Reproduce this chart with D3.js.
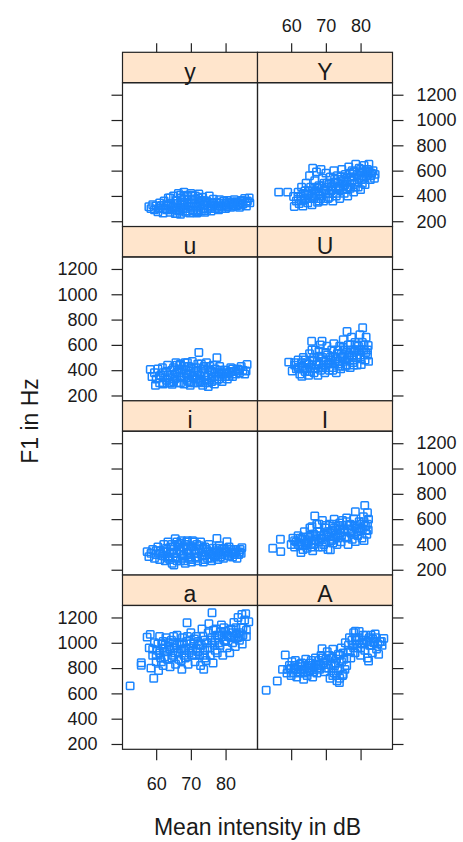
<!DOCTYPE html>
<html>
<head>
<meta charset="utf-8">
<title>F1 by intensity</title>
<script src="https://cdn.jsdelivr.net/npm/d3@7"></script>
<style>
body { margin: 0; background: #fff; }
text { font-family: "Liberation Sans", Arial, sans-serif; fill: #1a1a1a; }
</style>
</head>
<body>
<div class="container"></div>
<script>
// panel order: left to right, top to bottom
var panelLabels = ["y", "Y", "u", "U", "i", "I", "a", "A"];
var xTicks = [60, 70, 80];
var yTicks = [200, 400, 600, 800, 1000, 1200];

// [mean intensity dB, F1 Hz] (outer points, then the dense core)
var pts_y = [[57.9,315],[58.5,300],[59,330],[59.5,290],[60,320],[60.5,275],[61,345],[61.2,305],[62,265],[62.3,360],[62.8,330],[63,290],[63.5,385],[64,270],[64.2,340],[64.8,310],[65,400],[65.5,260],[65.8,365],[66,290],[66.4,420],[66.8,330],[67,255],[67.3,385],[67.7,300],[68,430],[68.3,350],[68.6,270],[69,405],[69.3,320],[69.7,265],[70,420],[70.2,370],[70.6,290],[71,340],[71.3,400],[71.7,265],[72,310],[72.3,415],[72.7,355],[73,280],[73.4,390],[73.8,325],[74,270],[74.5,360],[75,300],[75.3,400],[75.8,280],[76,340],[76.5,375],[77,300],[77.5,350],[78,290],[78.3,370],[79,320],[79.5,345],[80,300],[80.5,365],[81,330],[81.5,310],[82,350],[82.5,370],[83,320],[83.5,345],[84,310],[84.5,365],[85,335],[85.5,380],[86,320],[86.3,360],[86.8,385],[87,345],
    [62.5,300],[63.5,320],[64.5,290],[65,340],[65.5,310],[66,360],[66.5,280],[67,310],[67.5,350],[68,330],[68.5,300],[69,370],[69.5,345],[70,310],[70.5,280],[71,375],[71.5,320],[72,290],[72.5,340],[73,365],[73.5,300],[74,330],[74.5,285],[75,350],[75.5,320],[76,300],[76.5,345],[77,325],[77.5,310],[78,340],[78.5,320],[79,300],[79.5,360],[80,330],[80.5,315],[81,350],[81.5,340],[82,320],[82.5,335],[83,355],[83.5,325],[84,345],[84.5,330],[85,360],[86,350],[64,385],[67,405],[69,395],[70.5,405],[72,385],[60.8,300],[61.5,325],[66,260],[69,280],[72,275],[64,300],[66.8,295],[68,395],[74,360],[76,320]];
var pts_Y = [[56.4,430],[59,430],[60.7,396],[60.9,317],[61.5,360],[62,430],[62.3,340],[62.8,400],[63,470],[63.4,320],[63.8,370],[64,440],[64.3,500],[64.8,345],[65,410],[65.3,560],[65.6,470],[66,330],[66.2,620],[66.5,380],[66.8,520],[67,440],[67.3,590],[67.6,350],[68,480],[68.3,400],[68.6,610],[69,540],[69.3,360],[69.6,450],[70,580],[70.3,500],[70.6,380],[71,420],[71.3,550],[71.6,470],[72,360],[72.3,600],[72.6,510],[73,420],[73.3,560],[73.6,460],[74,380],[74.3,530],[74.6,610],[75,480],[75.3,420],[75.6,570],[76,510],[76.3,400],[76.6,630],[77,460],[77.3,550],[77.6,600],[78,430],[78.3,500],[78.6,650],[79,570],[79.3,470],[79.6,620],[80,450],[80.3,530],[80.6,590],[81,640],[81.3,490],[81.6,560],[82,610],[82.4,650],[82.8,530],[83.2,580],[83.6,600],[84,540],[84.2,570],
    [62,390],[63,360],[63.5,420],[64,380],[64.5,410],[65,440],[65.5,380],[66,420],[66.5,450],[67,400],[67.5,470],[68,430],[68.5,380],[69,460],[69.5,500],[70,420],[70.5,470],[71,500],[71.5,440],[72,480],[72.5,530],[73,460],[73.5,500],[74,450],[74.5,550],[75,520],[75.5,490],[76,540],[76.5,470],[77,580],[77.5,520],[78,550],[78.5,470],[79,510],[79.5,540],[80,580],[80.5,500],[81,540],[81.5,600],[82,570],[82.5,590],[83,560],[70,440],[72,450],[74,470],[76,450],[78,590],[80,610],[66,400],[68,360],[71,390],[73,400],[75,450]];
var pts_u = [[58.3,406],[58.8,350],[59.5,380],[59.8,280],[60,330],[60.5,410],[61,300],[61.3,360],[61.8,420],[62,290],[62.5,340],[63,390],[63.3,440],[63.7,300],[64,360],[64.6,288],[65,420],[65.3,330],[65.7,460],[66,380],[66.4,300],[66.8,440],[67,350],[67.5,410],[68,290],[68.3,460],[68.7,370],[69,320],[69.4,430],[69.8,280],[70,390],[70.4,470],[70.8,340],[71,300],[71.4,420],[71.8,360],[72,450],[72.3,540],[72.6,310],[73,390],[73.4,280],[73.8,430],[74,350],[74.5,460],[75,270],[75.1,300],[75.5,400],[76,340],[76.4,440],[76.8,290],[77,380],[77.5,499],[78,330],[78.3,430],[78.8,370],[79,310],[79.5,400],[80,350],[80.5,330],[81,380],[81.5,420],[82,350],[82.5,390],[83,370],[83.5,410],[84,380],[84.5,430],[85,400],[85.9,393],[86.2,446],[85.5,370],
    [61,340],[62,380],[63,320],[63.5,360],[64.5,400],[65,310],[65.5,370],[66,340],[66.5,410],[67,300],[67.5,380],[68,340],[68.5,400],[69,360],[69.5,310],[70,420],[70.5,350],[71,380],[71.5,330],[72,400],[72.5,360],[73,320],[73.5,410],[74,380],[74.5,320],[75,360],[75.5,430],[76,390],[76.5,350],[77,410],[77.5,320],[78,380],[78.5,400],[79,350],[79.5,380],[80,400],[80.5,370],[81,350],[81.5,390],[82,410],[83,395],[84,400],[62,300],[64,300],[66,440],[68,430],[70,300],[72,300],[74,300],[76,310],[67,450],[69,460],[73,450]];
var pts_U = [[59.3,464],[60.3,393],[61,440],[61.5,410],[62,480],[62.5,370],[63,430],[63.1,351],[63.5,500],[64,390],[64.5,460],[65,360],[65.3,530],[65.6,420],[65.9,629],[66.2,480],[66.6,380],[67,560],[67.3,440],[67.7,360],[68,510],[68.4,600],[68.9,629],[69,420],[69.3,470],[69.7,380],[70,540],[70.3,590],[70.6,450],[71,400],[71.3,500],[71.7,560],[72,420],[72.3,610],[72.7,470],[73,380],[73.3,530],[73.7,450],[74,590],[74.3,410],[74.7,500],[75,640],[75.3,560],[75.6,430],[76,480],[76.1,706],[76.4,600],[76.8,520],[77,420],[77.4,660],[77.8,460],[78,560],[78.4,620],[78.8,500],[79,440],[79.4,590],[79.8,680],[80,520],[80.2,445],[80.5,620],[80.6,735],[81,560],[81.3,480],[81.6,660],[82,520],[82.2,595],[82.3,470],
    [61,460],[62,420],[63,460],[63.5,420],[64,480],[64.5,410],[65,450],[65.5,390],[66,440],[66.5,500],[67,410],[67.5,470],[68,450],[68.5,400],[69,500],[69.5,440],[70,480],[70.5,520],[71,450],[71.5,480],[72,510],[72.5,450],[73,490],[73.5,560],[74,470],[74.5,530],[75,510],[75.5,470],[76,540],[76.5,500],[77,560],[77.5,510],[78,480],[78.5,550],[79,520],[79.5,560],[80,490],[80.5,560],[81,600],[81.5,540],[82,560],[70,420],[72,400],[74,430],[76,440],[78,440],[79,600],[77,600],[75,580],[68,550],[66,560]];
var pts_i = [[57.4,343],[57.9,304],[58.5,330],[59,360],[59.5,290],[60,320],[60.5,380],[61,280],[61.3,350],[61.8,310],[62.2,400],[62.6,270],[63,340],[63.4,420],[63.8,300],[64.2,380],[64.6,250],[65.1,238],[65,330],[65.5,446],[65.8,290],[66.2,400],[66.6,350],[67,270],[67.3,430],[67.7,310],[68,380],[68.4,250],[68.8,420],[69.1,330],[69.5,290],[69.9,390],[70.2,260],[70.5,430],[70.9,350],[71.3,300],[71.7,400],[72,270],[72.4,360],[72.8,420],[73.2,310],[73.6,260],[74,380],[74.4,340],[74.8,290],[75.2,400],[75.6,320],[76,270],[76.4,370],[76.8,300],[77.2,350],[77.5,448],[77.8,280],[78.2,390],[78.6,320],[79,360],[79.4,290],[79.8,340],[80.4,422],[80.6,310],[81,380],[81.5,330],[82,300],[82.5,360],[83,340],[83.3,291],[83.8,320],[84.2,360],[84.7,375],[84.5,330],
    [60,350],[61,330],[62,350],[62.5,310],[63,370],[63.5,290],[64,330],[64.5,400],[65,360],[65.5,300],[66,330],[66.5,380],[67,350],[67.5,290],[68,320],[68.5,400],[69,360],[69.5,330],[70,300],[70.5,380],[71,330],[71.5,360],[72,300],[72.5,390],[73,340],[73.5,370],[74,310],[74.5,360],[75,340],[75.5,290],[76,330],[76.5,340],[77,310],[77.5,370],[78,340],[78.5,300],[79,330],[79.5,370],[80,350],[80.5,340],[81,310],[81.5,360],[82,340],[82.5,320],[83,360],[84,340],[66,270],[68,270],[70,280],[72,290],[74,280],[64,280],[66,420],[69,430],[71,420],[67,410]];
var pts_I = [[54.7,370],[57,343],[56.9,441],[62.8,335],[60,400],[60.5,450],[61,380],[61.5,420],[62,470],[62.5,390],[63,440],[63.4,360],[63.8,500],[64.2,410],[64.6,370],[65,460],[65.4,530],[65.8,400],[66.2,350],[66.5,480],[66.8,625],[67,430],[67.4,560],[67.8,380],[68.2,500],[68.6,450],[69,590],[69.4,400],[69.8,530],[70.2,470],[70.6,360],[71,560],[71.3,357],[71.6,430],[72,510],[72.4,600],[72.8,460],[73.2,400],[73.6,550],[74,490],[74.4,420],[74.8,590],[75.2,520],[75.6,460],[76,610],[76.4,400],[76.8,550],[77.2,490],[77.6,440],[78,600],[78.5,659],[78.5,422],[78.8,530],[79.2,470],[79.6,580],[80,510],[80.4,450],[80.8,620],[81.2,709],[81.4,550],[81.8,480],[82.2,514],[82.3,600],[82,650],[81,430],
    [61,430],[62,400],[62.5,450],[63,400],[63.5,460],[64,440],[64.5,400],[65,420],[65.5,470],[66,430],[66.5,400],[67,470],[67.5,500],[68,420],[68.5,470],[69,440],[69.5,480],[70,420],[70.5,500],[71,460],[71.5,490],[72,440],[72.5,530],[73,480],[73.5,450],[74,520],[74.5,470],[75,550],[75.5,500],[76,450],[76.5,520],[77,560],[77.5,510],[78,480],[78.5,550],[79,500],[79.5,530],[80,560],[80.5,520],[81,580],[81.5,510],[82,560],[70,550],[72,560],[74,570],[76,580],[68,560],[66,540],[64,390],[66,380],[69,380],[72,410]];
var pts_a = [[52.5,659],[55.7,842],[55.7,822],[59.3,719],[57.4,1045],[58.3,1066],[58,960],[58.5,800],[59,900],[59.5,1000],[60,850],[60.3,940],[60.7,780],[61,1050],[61.3,880],[61.7,990],[62,820],[62.4,930],[62.8,1040],[63.2,870],[63.6,970],[64,810],[64.4,1020],[64.8,900],[65.2,960],[65.6,830],[66,1060],[66.4,920],[66.8,990],[67.2,860],[67.4,790],[67.6,1040],[68,940],[68.4,880],[68.9,1158],[68.8,1010],[69.2,830],[69.6,960],[70,1080],[70.4,900],[70.8,1000],[71.2,850],[71.6,1050],[72,930],[72.4,980],[72.8,820],[73.2,1110],[73.7,790],[73.6,900],[74,1020],[74.4,860],[74.8,960],[75.2,1150],[75.6,900],[76.1,1237],[76,1040],[76.4,840],[76.8,980],[77.2,1110],[77.6,920],[78,1060],[78.4,980],[78.8,1140],[79.2,900],[79.6,1020],[80,1090],[80.4,960],[80.8,1050],[81.2,920],[81.6,1110],[82,1000],[82.4,1160],[82.8,970],[83.2,1070],[83.6,1200],[84,1020],[84.4,1120],[84.7,1224],[85,1060],[85.5,1180],[86,1100],[86.7,1166],[85.8,1230],[84.8,990],
    [59,950],[60,900],[60.5,990],[61,920],[61.5,850],[62,960],[62.5,890],[63,930],[63.5,1000],[64,950],[64.5,880],[65,1000],[65.5,920],[66,980],[66.5,870],[67,950],[67.5,1000],[68,900],[68.5,960],[69,1050],[69.5,920],[70,990],[70.5,940],[71,1030],[71.5,960],[72,1010],[72.5,900],[73,980],[73.5,1050],[74,940],[74.5,1000],[75,1080],[75.5,960],[76,1000],[76.5,1100],[77,1020],[77.5,1060],[78,1000],[78.5,1090],[79,1050],[79.5,1120],[80,1010],[80.5,1060],[81,1100],[81.5,1040],[82,1080],[82.5,1050],[83,1120],[83.5,1040],[84,1080],[84.5,1050],[85,1120],[86,1050],[62,1010],[65,1050],[71,900],[74,880],[77,940]];
var pts_A = [[52.8,625],[56,698],[58.3,903],[60.2,850],[57.5,790],[58.8,760],[59.5,820],[60,740],[60.8,790],[61.2,860],[61.6,730],[62,810],[62.5,760],[63,840],[63.6,711],[63.8,790],[64.2,870],[64.6,740],[65,820],[65.4,780],[65.8,860],[66.2,730],[66.6,810],[67,880],[67.4,760],[67.8,830],[68.2,790],[68.6,900],[68.9,953],[69.2,840],[69.6,770],[70,870],[70.4,930],[70.8,800],[71.2,720],[71.6,880],[72,950],[72.4,760],[72.8,840],[73.2,700],[73.6,910],[73.9,685],[74,800],[74.4,960],[74.8,740],[75.2,870],[75.6,1000],[76,820],[76.4,940],[76.8,1040],[77.2,880],[77.6,980],[78,1080],[78.5,1092],[78.4,920],[78.8,1020],[79.2,960],[79.6,1090],[80,900],[80.4,1000],[80.8,1060],[81.2,940],[81.6,1020],[82,880],[82.3,856],[82.6,980],[83,1060],[83.4,920],[83.8,1000],[84.2,1070],[84.6,950],[85.2,909],[85.6,1010],[86.2,980],[86.7,1035],
    [59,790],[60,800],[60.5,760],[61,820],[61.5,790],[62,770],[62.5,830],[63,790],[63.5,760],[64,820],[64.5,800],[65,770],[65.5,840],[66,800],[66.5,770],[67,830],[67.5,800],[68,860],[68.5,820],[69,880],[69.5,840],[70,800],[70.5,860],[71,900],[71.5,830],[72,880],[72.5,820],[73,870],[73.5,780],[74,900],[74.5,850],[75,920],[75.5,790],[76,880],[76.5,980],[77,930],[77.5,1020],[78,960],[78.5,1040],[79,990],[79.5,1040],[80,960],[80.5,1020],[81,990],[81.5,1060],[82,1010],[82.5,1040],[83,980],[83.5,1030],[84,1010],[84.5,1040],[85,990],[86,1010],[73,740],[74,720],[75,750],[72,740]];

var panelPoints = [pts_y, pts_Y, pts_u, pts_U, pts_i, pts_I, pts_a, pts_A];

var width = 463, height = 842;
var padLeft = 122.5, colW = 135,
    padTop = 52.3, rowH = 174.25, stripH = 30.4,
    panelH = rowH - stripH,
    nRows = 4;

var x = d3.scaleLinear().domain([50.3, 89.2]).range([0, colW]);
var y = d3.scaleLinear().domain([158, 1295]).range([panelH, 0]);

var svg = d3.select(".container")
    .append("svg")
        .attr("width", width)
        .attr("height", height);

// axes, alternating labels like lattice
function drawAxis(axis, tx, ty, labelled) {
    var g = svg.append("g")
        .attr("transform", "translate(" + tx + "," + ty + ")")
        .call(axis.tickFormat(labelled ? d3.format("d") : function() { return ""; }));
    g.select(".domain").remove();
    g.selectAll(".tick line").attr("stroke", "#222").attr("stroke-width", 1.2);
    g.selectAll(".tick text").style("font-size", "18px").attr("fill", "#1a1a1a")
        .style("font-family", "'Liberation Sans', Arial, sans-serif");
    return g;
}

for (var r = 0; r < nRows; r++) {
    var pTop = padTop + r * rowH + stripH;
    drawAxis(d3.axisLeft(y).tickValues(yTicks).tickSize(11).tickPadding(14), padLeft, pTop, r % 2 == 1);
    drawAxis(d3.axisRight(y).tickValues(yTicks).tickSize(11).tickPadding(13), padLeft + 2 * colW, pTop, r % 2 == 0);
}
for (var c = 0; c < 2; c++) {
    drawAxis(d3.axisTop(x).tickValues(xTicks).tickSize(9).tickPadding(11), padLeft + c * colW, padTop, c == 1);
    drawAxis(d3.axisBottom(x).tickValues(xTicks).tickSize(11).tickPadding(17), padLeft + c * colW, padTop + nRows * rowH, c == 0);
}

// panels
panelPoints.forEach(function(pts, i) {
    var r = Math.floor(i / 2), c = i % 2;
    var g = svg.append("g")
        .attr("transform", "translate(" + (padLeft + c * colW) + "," + (padTop + r * rowH) + ")");

    g.append("rect")
        .attr("width", colW).attr("height", stripH)
        .attr("fill", "#ffe5cc");
    g.append("text")
        .attr("x", colW / 2).attr("y", stripH - 3)
        .attr("text-anchor", "middle")
        .style("font-size", "23px")
        .text(panelLabels[i]);

    var p = g.append("g").attr("transform", "translate(0," + stripH + ")");
    p.selectAll("rect.pt")
        .data(pts)
        .enter().append("rect")
        .attr("class", "pt")
        .attr("x", function(d) { return x(d[0]) - 3.7; })
        .attr("y", function(d) { return y(d[1]) - 3.7; })
        .attr("width", 7.4).attr("height", 7.4)
        .attr("rx", 0.8)
        .attr("fill", "none")
        .attr("stroke", "#1a85ff")
        .attr("stroke-width", 1.5);

    g.append("rect")
        .attr("width", colW).attr("height", stripH)
        .attr("fill", "none").attr("stroke", "#222").attr("stroke-width", 1.2);
    p.append("rect")
        .attr("width", colW).attr("height", panelH)
        .attr("fill", "none").attr("stroke", "#222").attr("stroke-width", 1.2);
});

// axis titles
svg.append("text")
    .attr("x", padLeft + colW).attr("y", 835)
    .attr("text-anchor", "middle")
    .style("font-size", "23px")
    .text("Mean intensity in dB");

svg.append("text")
    .attr("transform", "translate(38,421) rotate(-90)")
    .attr("text-anchor", "middle")
    .style("font-size", "23px")
    .text("F1 in Hz");
</script>
</body>
</html>
